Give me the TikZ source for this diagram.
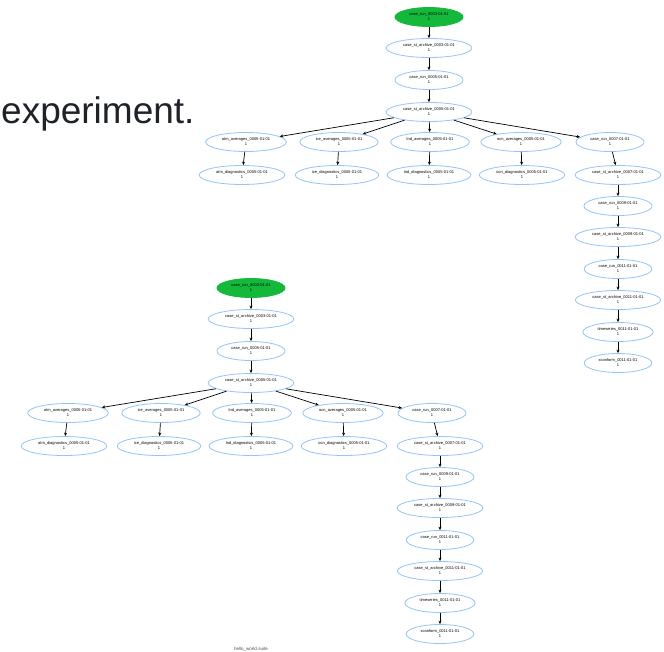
\documentclass[tikz,border=0pt]{standalone}
\usepackage{fontspec}
\setmainfont{Liberation Sans}
\usetikzlibrary{shapes.geometric,arrows.meta}

\definecolor{jobblue}{RGB}{150,195,250}
\definecolor{rungreen}{RGB}{20,185,60}
\definecolor{pagetext}{RGB}{31,35,40}

\tikzset{
  job/.style={ellipse, draw=jobblue, line width=0.8pt, minimum height=19pt,
    inner xsep=4.5pt, inner ysep=2pt, align=center,
    font=\fontsize{4}{5}\selectfont},
  live/.style={job, draw=rungreen, fill=rungreen},
  dep/.style={-{Stealth[length=3.5pt,width=3pt]}, line width=0.7pt},
}

% one copy of the suite graph, top job at (0,0)
\newcommand{\suitegraph}{%
  % start of the run
  \node[live] (run3) at (0,0) {case\_run\_0003-01-01\\1};
  \node[job] (arch3) at (0,31) {case\_st\_archive\_0003-01-01\\1};
  \node[job] (run5) at (0,63) {case\_run\_0005-01-01\\1};
  \node[job] (arch5) at (0,95) {case\_st\_archive\_0005-01-01\\1};
  % post processing row
  \node[job] (atm) at (-183,125) {atm\_averages\_0005-01-01\\1};
  \node[job] (ice) at (-90,125) {ice\_averages\_0005-01-01\\1};
  \node[job] (lnd) at (1,125) {lnd\_averages\_0005-01-01\\1};
  \node[job] (ocn) at (92,125) {ocn\_averages\_0005-01-01\\1};
  \node[job] (run7) at (181,125) {case\_run\_0007-01-01\\1};
  \node[job] (atmd) at (-187,158) {atm\_diagnostics\_0005-01-01\\1};
  \node[job] (iced) at (-92,158) {ice\_diagnostics\_0005-01-01\\1};
  \node[job] (lndd) at (0,158) {lnd\_diagnostics\_0005-01-01\\1};
  \node[job] (ocnd) at (93,158) {ocn\_diagnostics\_0005-01-01\\1};
  % rest of the run
  \node[job] (arch7) at (189,158) {case\_st\_archive\_0007-01-01\\1};
  \node[job] (run9) at (189,189) {case\_run\_0009-01-01\\1};
  \node[job] (arch9) at (189,220) {case\_st\_archive\_0009-01-01\\1};
  \node[job] (run11) at (189,252) {case\_run\_0011-01-01\\1};
  \node[job] (arch11) at (189,283) {case\_st\_archive\_0011-01-01\\1};
  \node[job] (ts) at (189,315) {timeseries\_0011-01-01\\1};
  \node[job] (xc) at (189,346) {xconform\_0011-01-01\\1};
  % dependencies
  \draw[dep] (run3) -- (arch3);
  \draw[dep] (arch3) -- (run5);
  \draw[dep] (run5) -- (arch5);
  \draw[dep] (arch5) -- (atm);
  \draw[dep] (arch5) -- (ice);
  \draw[dep] (arch5) -- (lnd);
  \draw[dep] (arch5) -- (ocn);
  \draw[dep] (arch5) -- (run7);
  \draw[dep] (atm) -- (atmd);
  \draw[dep] (ice) -- (iced);
  \draw[dep] (lnd) -- (lndd);
  \draw[dep] (ocn) -- (ocnd);
  \draw[dep] (run7) -- (arch7);
  \draw[dep] (arch7) -- (run9);
  \draw[dep] (run9) -- (arch9);
  \draw[dep] (arch9) -- (run11);
  \draw[dep] (run11) -- (arch11);
  \draw[dep] (arch11) -- (ts);
  \draw[dep] (ts) -- (xc);
}

\begin{document}
\begin{tikzpicture}[x=1pt, y=-1pt]
  % page area
  \fill[white] (0,0) rectangle (664,651);
  \useasboundingbox (0,0) rectangle (664,651);

  % text of the page
  \node[anchor=base west, inner sep=0pt, text=pagetext,
    font=\fontsize{37}{40}\selectfont] (intro) at (1,123) {experiment.};

  % upper graph
  \begin{scope}[shift={(429,17)}, name prefix=u-]
    \suitegraph
  \end{scope}

  % lower graph
  \begin{scope}[shift={(251,288)}, name prefix=l-]
    \suitegraph
  \end{scope}

  \node[inner sep=0pt, text=pagetext!80, font=\fontsize{4.5}{5}\selectfont]
    (suite) at (251,649) {hello\_world.suite};
\end{tikzpicture}
\end{document}
